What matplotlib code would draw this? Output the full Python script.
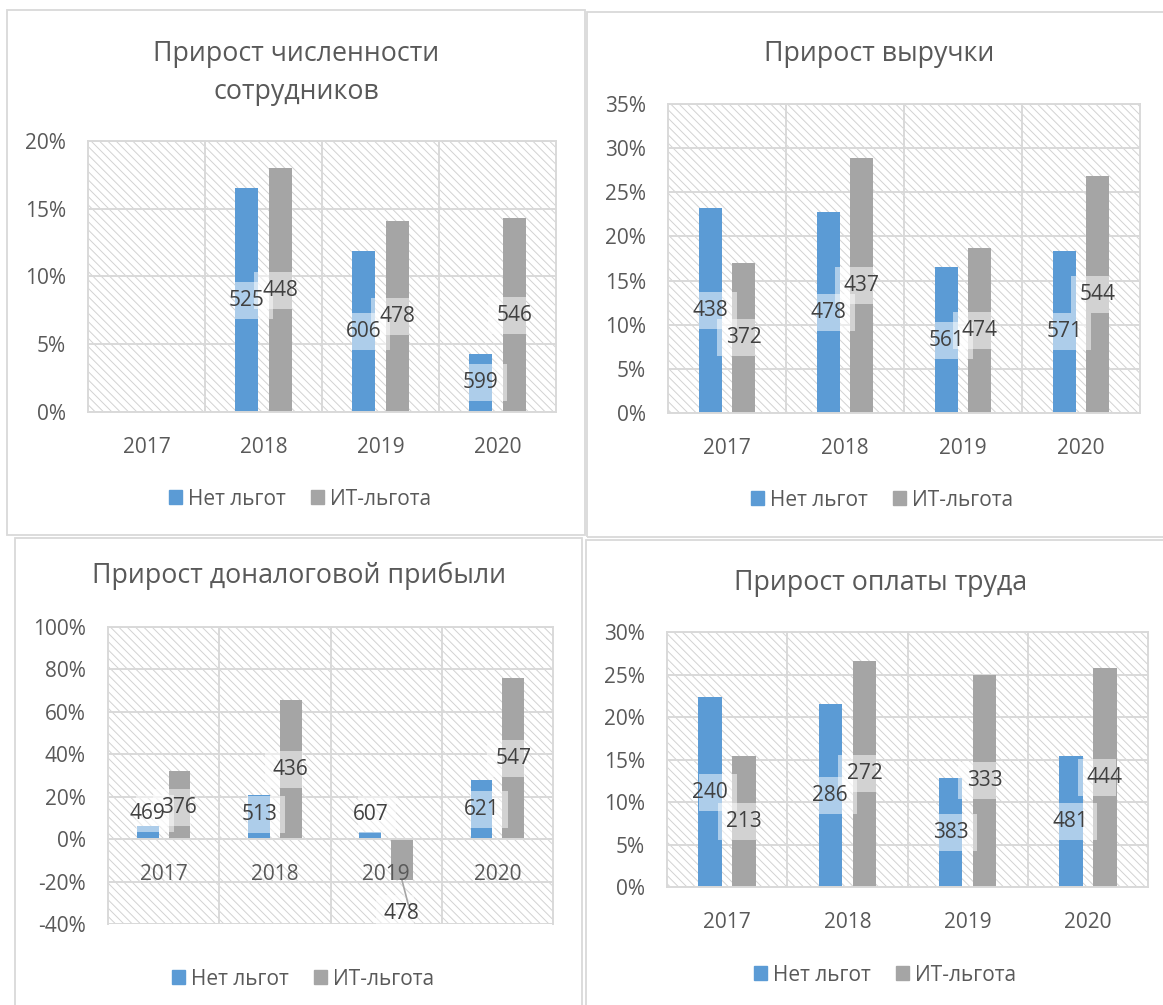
import matplotlib
matplotlib.use('Agg')
import matplotlib.pyplot as plt
import matplotlib.transforms as mtransforms
from matplotlib.patches import Rectangle, Patch
from matplotlib.ticker import PercentFormatter, FixedLocator
import numpy as np

plt.rcParams['font.family'] = ['Open Sans', 'DejaVu Sans']
plt.rcParams['hatch.linewidth'] = 0.7
plt.rcParams['axes.unicode_minus'] = False

W, H = 1163, 1005
BLUE = '#5B9BD5'
GRAY = '#A5A5A5'
GRID = '#D9D9D9'
TXT = '#595959'
LBL = '#404040'

years = ['2017', '2018', '2019', '2020']
series = ['Нет льгот', 'ИТ-льгота']

# прирост численности сотрудников, %
staff_no = [np.nan, 16.5, 11.9, 4.3]
staff_it = [np.nan, 18.0, 14.1, 14.3]
staff_lbl_no = ['', '525', '606', '599']
staff_lbl_it = ['', '448', '478', '546']

# прирост выручки, %
rev_no = [23.2, 22.8, 16.5, 18.4]
rev_it = [17.0, 28.9, 18.7, 26.8]
rev_lbl_no = ['438', '478', '561', '571']
rev_lbl_it = ['372', '437', '474', '544']

# прирост доналоговой прибыли, %
prof_no = [6.0, 20.6, 3.4, 27.7]
prof_it = [32.0, 65.6, -19.2, 76.0]
prof_lbl_no = ['469', '513', '607', '621']
prof_lbl_it = ['376', '436', '478', '547']

# прирост оплаты труда, %
wage_no = [22.3, 21.5, 12.8, 15.4]
wage_it = [15.4, 26.6, 25.0, 25.8]
wage_lbl_no = ['240', '286', '383', '481']
wage_lbl_it = ['213', '272', '333', '444']

fig = plt.figure(figsize=(W / 100, H / 100), dpi=100)


def px_rect(x0, y0, x1, y1):
    return [x0 / W, 1 - y1 / H, (x1 - x0) / W, (y1 - y0) / H]


def panel_box(x0, y0, x1, y1):
    fig.patches.append(Rectangle(px_rect(x0, y0, x1, y1)[:2],
                                 (x1 - x0) / W, (y1 - y0) / H,
                                 transform=fig.transFigure, fill=False,
                                 edgecolor=GRID, lw=1.3))


def put_label(ax, x, y, text, box_x):
    # excel draws the label box a bit off the text, towards the category centre
    tr = fig.dpi_scale_trans + mtransforms.ScaledTranslation(box_x, y, ax.transData)
    ax.add_patch(Rectangle((-0.19, -0.185), 0.38, 0.37, transform=tr,
                           facecolor='white', alpha=0.5, lw=0, zorder=3))
    ax.text(x, y, text, ha='center', va='center', fontsize=15, color=LBL, zorder=4)


def draw_chart(rect, ylim, step, no, it, lbl_no, lbl_it, title, title_xy,
               legend_xy, moved=None, zero_axis=False):
    moved = moved or {}
    ax = fig.add_axes(px_rect(*rect))
    x = np.arange(len(years))
    w, off, boff = 0.195, 0.142, 0.078
    ax.set_xlim(-0.5, len(years) - 0.5)
    ax.set_ylim(*ylim)
    ax.patch.set_facecolor('none')
    ax.add_patch(Rectangle((0, 0), 1, 1, transform=ax.transAxes, facecolor='white',
                           edgecolor='#D2D2D2', lw=0, hatch='\\\\\\\\', zorder=0.1))
    ax.set_axisbelow(True)

    ax.bar(x - off, no, w, color=BLUE, zorder=2)
    ax.bar(x + off, it, w, color=GRAY, zorder=2)

    for i in range(len(years)):
        for side, vals, lbls, key in ((-1, no, lbl_no, 'no'), (1, it, lbl_it, 'it')):
            if not lbls[i]:
                continue
            y = moved.get((key, i), vals[i] / 2)
            put_label(ax, i + side * off, y, lbls[i], i + side * boff)

    ax.set_yticks(np.arange(ylim[0], ylim[1] + 0.1, step))
    ax.yaxis.set_major_formatter(PercentFormatter(xmax=100, decimals=0))
    ax.set_xticks(x)
    ax.set_xticklabels(years)
    ax.xaxis.set_minor_locator(FixedLocator(x[:-1] + 0.5))
    ax.yaxis.grid(True, color=GRID, lw=1.4)
    ax.xaxis.grid(True, which='minor', color=GRID, lw=1.4)
    # year labels sit above the bars (matters where a bar goes below zero)
    ax.xaxis.set_zorder(5)
    ax.tick_params(axis='both', which='both', length=0, labelsize=15, labelcolor=TXT)
    ax.tick_params(axis='y', pad=16)
    ax.tick_params(axis='x', pad=18)
    for s in ax.spines.values():
        s.set_color(GRID)
        s.set_linewidth(1.4)
    if zero_axis:
        ax.spines['bottom'].set_position(('data', 0))
    ax.set_xlim(-0.5, len(years) - 0.5)
    ax.set_ylim(*ylim)

    fig.text(title_xy[0] / W, 1 - title_xy[1] / H, title, ha='center', va='center',
             fontsize=19.3, color=TXT, linespacing=1.5)
    fig.legend(handles=[Patch(color=BLUE), Patch(color=GRAY)], labels=series,
               loc='center', bbox_to_anchor=(legend_xy[0] / W, 1 - legend_xy[1] / H),
               ncol=2, frameon=False, fontsize=15, labelcolor=TXT,
               handlelength=0.62, handleheight=0.62, handletextpad=0.3,
               columnspacing=1.2)
    return ax


panel_box(7, 10, 585, 535)
panel_box(587, 12, 1180, 537)
panel_box(15, 538, 582, 1020)
panel_box(586, 540, 1180, 1020)

draw_chart((88, 141, 556, 412), (0, 20), 5, staff_no, staff_it, staff_lbl_no, staff_lbl_it,
           'Прирост численности\nсотрудников', (296, 73), (300, 499))
draw_chart((668, 104, 1140, 413), (0, 35), 5, rev_no, rev_it, rev_lbl_no, rev_lbl_it,
           'Прирост выручки', (879, 54), (882, 500))
ax3 = draw_chart((108, 627, 553, 924), (-40, 100), 20, prof_no, prof_it, prof_lbl_no,
                 prof_lbl_it, 'Прирост доналоговой прибыли', (299, 576), (303, 979),
                 moved={('no', 0): 12.0, ('no', 1): 11.7, ('no', 2): 11.7,
                        ('it', 0): 15.0, ('it', 2): -35.0},
                 zero_axis=True)
# leader line for the label that was pulled below the negative bar
ax3.annotate('', xy=(2.142, prof_it[2]), xytext=(2.2, -31.0),
             arrowprops=dict(arrowstyle='-', color=GRAY, lw=1.2, shrinkA=0, shrinkB=0),
             zorder=3)
draw_chart((667, 632, 1148, 887), (0, 30), 5, wage_no, wage_it, wage_lbl_no, wage_lbl_it,
           'Прирост оплаты труда', (881, 583), (885, 975))

fig.savefig('out.png', dpi=100, facecolor='white')
